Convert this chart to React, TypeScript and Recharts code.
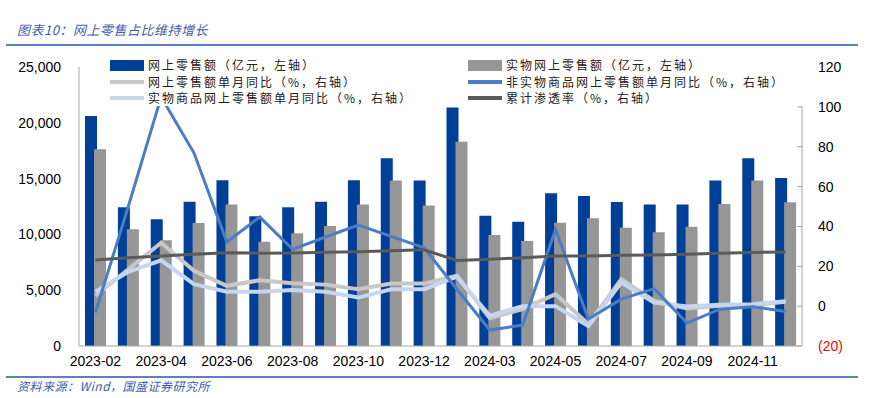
import { ComposedChart, Bar, Line, XAxis, YAxis } from 'recharts'

if (typeof document !== 'undefined') document.body.style.margin = '0'

const months = [
  '2023-02', '2023-03', '2023-04', '2023-05', '2023-06', '2023-07', '2023-08', '2023-09', '2023-10', '2023-11', '2023-12',
  '2024-02', '2024-03', '2024-04', '2024-05', '2024-06', '2024-07', '2024-08', '2024-09', '2024-10', '2024-11', '2024-12',
]
// 亿元
const onlineRetail = [20600, 12430, 11350, 12930, 14850, 11620, 12430, 12930, 14850, 16820, 14820, 21380, 11680, 11140, 13680, 13440, 12900, 12690, 12690, 14820, 16820, 15050]
const physicalOnline = [17620, 10460, 9470, 11020, 12690, 9350, 10100, 10750, 12690, 14820, 12600, 18310, 9950, 9410, 11050, 11440, 10600, 10190, 10690, 12720, 14820, 12870]
// %
const onlineYoy = [5.2, 18.5, 31.8, 17.7, 10.2, 13, 11.5, 10.8, 8.5, 11.3, 11.3, 15.3, -6, -1.5, 6, -9, 13.5, 2.7, -1.2, 0.2, 0.5, 2.2]
const physicalYoy = [7.2, 17.2, 23, 11, 7.2, 7.2, 8.1, 7.2, 4.3, 8.5, 8.5, 14.8, -4.8, 0, 0, -10, 11.8, 1.8, -0.2, 0.7, 1, 2.5]
const nonPhysicalYoy = [-3.2, 50, 105, 76.8, 32.2, 44.7, 28.5, 34.7, 40.7, 35, 29.3, 8.5, -12, -9.5, 38.5, -6.5, 3.5, 8.8, -8.5, -1.5, -0.3, -2.7]
const penetration = [23.2, 24.3, 25.2, 26, 26.8, 26.6, 26.7, 27, 27.3, 27.8, 28.3, 22.9, 23.5, 24.3, 25.2, 25.2, 25.5, 25.7, 26.1, 26.5, 26.9, 27.2]

const leftTicks = [0, 5000, 10000, 15000, 20000, 25000]
const rightTicks = [-20, 0, 20, 40, 60, 80, 100, 120]

const data = months.map((m, i) => ({
  month: m,
  onlineRetail: onlineRetail[i],
  physicalOnline: physicalOnline[i],
  onlineYoy: onlineYoy[i],
  physicalYoy: physicalYoy[i],
  nonPhysicalYoy: nonPhysicalYoy[i],
  penetration: penetration[i],
}))

const C = {
  navy: '#003f98',
  grey: '#969696',
  lightGrey: '#c8c8c8',
  lightBlue: '#c6d6ee',
  midBlue: '#4a7dc6',
  dark: '#5a5a5a',
  axis: '#a6a6a6',
  title: '#3d5ea8',
}

const numFont = "'Liberation Sans', Arial, sans-serif"
const cjkFont = "'Noto Sans CJK SC', sans-serif"

const legendItems = [
  { label: '网上零售额（亿元，左轴）', color: C.navy, kind: 'bar' },
  { label: '实物网上零售额（亿元，左轴）', color: C.grey, kind: 'bar' },
  { label: '网上零售额单月同比（%，右轴）', color: C.lightGrey, kind: 'line' },
  { label: '非实物商品网上零售额单月同比（%，右轴）', color: C.midBlue, kind: 'line' },
  { label: '实物商品网上零售额单月同比（%，右轴）', color: C.lightBlue, kind: 'line' },
  { label: '累计渗透率（%，右轴）', color: C.dark, kind: 'line' },
]

function LegendBox() {
  return (
    <div
      style={{
        position: 'absolute', left: 100, top: 57, width: 712, height: 49, background: '#fff',
        display: 'grid', gridTemplateColumns: '358px auto', gridAutoRows: '16.5px', paddingLeft: 10, boxSizing: 'border-box',
      }}
    >
      {legendItems.map((it) => (
        <div key={it.label} style={{ display: 'flex', alignItems: 'center', height: 16.5 }}>
          <span
            style={{
              display: 'inline-block',
              flex: 'none',
              width: 34,
              height: it.kind === 'bar' ? 11 : 4,
              background: it.color,
              marginRight: 4,
            }}
          />
          <span
            style={{
              fontFamily: cjkFont, fontSize: 12, lineHeight: '14px', letterSpacing: 2,
              color: '#222', whiteSpace: 'nowrap',
            }}
          >
            {it.label}
          </span>
        </div>
      ))}
    </div>
  )
}

function RightTick(props: any) {
  const { x, y, payload } = props
  const v = payload.value
  return (
    <g>
      <line x1={x - 21} x2={x - 16} y1={y} y2={y} stroke={C.axis} />
      <text x={x} y={y} dy={5} textAnchor="start" fontSize={14} fontFamily={numFont} fill={v < 0 ? '#ff0000' : '#000'}>
        {v < 0 ? `(${-v})` : v}
      </text>
    </g>
  )
}

export default function App() {
  return (
    <div style={{ position: 'relative', width: 879, height: 398, background: '#fff' }}>
      <div
        style={{
          position: 'absolute', left: 17, top: 22, fontFamily: cjkFont, fontStyle: 'italic',
          fontSize: 13, lineHeight: '16px', color: C.title, letterSpacing: 0.5,
        }}
      >
        图表10：网上零售占比维持增长
      </div>
      <div style={{ position: 'absolute', left: 6, top: 44, width: 852, height: 1.5, background: '#5b7fc0' }} />
      <ComposedChart
        width={879}
        height={398}
        data={data}
        margin={{ top: 67, right: 0, bottom: 22, left: 0 }}
        barSize={12}
        barGap={-3}
      >
        <XAxis
          dataKey="month"
          interval={1}
          tickLine={false}
          tickSize={0}
          tickMargin={10}
          height={30}
          stroke={C.axis}
          tick={{ fontSize: 14, fontFamily: numFont, fill: '#000' }}
        />
        <YAxis
          yAxisId="left"
          domain={[0, 25000]}
          ticks={leftTicks}
          width={79}
          tickLine={false}
          tickSize={0}
          tickMargin={18}
          stroke={C.axis}
          tickFormatter={(v: number) => v.toLocaleString('en-US')}
          tick={{ fontSize: 14, fontFamily: numFont, fill: '#000' }}
          interval={0}
        />
        <YAxis
          yAxisId="right"
          orientation="right"
          domain={[-20, 120]}
          ticks={rightTicks}
          width={77}
          tickLine={false}
          tickSize={0}
          tickMargin={16}
          stroke={C.axis}
          tick={<RightTick />}
          interval={0}
        />
        <Bar yAxisId="left" dataKey="onlineRetail" fill={C.navy} isAnimationActive={false} />
        <Bar yAxisId="left" dataKey="physicalOnline" fill={C.grey} isAnimationActive={false} />
        <Line yAxisId="right" dataKey="onlineYoy" stroke={C.lightGrey} strokeWidth={4} dot={false} type="linear" isAnimationActive={false} />
        <Line yAxisId="right" dataKey="physicalYoy" stroke={C.lightBlue} strokeWidth={4} dot={false} type="linear" isAnimationActive={false} />
        <Line yAxisId="right" dataKey="nonPhysicalYoy" stroke={C.midBlue} strokeWidth={3} dot={false} type="linear" isAnimationActive={false} />
        <Line yAxisId="right" dataKey="penetration" stroke={C.dark} strokeWidth={3} dot={false} type="linear" isAnimationActive={false} />
      </ComposedChart>
      <LegendBox />
      <div style={{ position: 'absolute', left: 6, top: 376, width: 852, height: 1.5, background: '#5b7fc0' }} />
      <div
        style={{
          position: 'absolute', left: 17, top: 378, fontFamily: cjkFont, fontStyle: 'italic',
          fontSize: 12, lineHeight: '16px', color: C.title, letterSpacing: 0.5,
        }}
      >
        资料来源：Wind，国盛证券研究所
      </div>
    </div>
  )
}
